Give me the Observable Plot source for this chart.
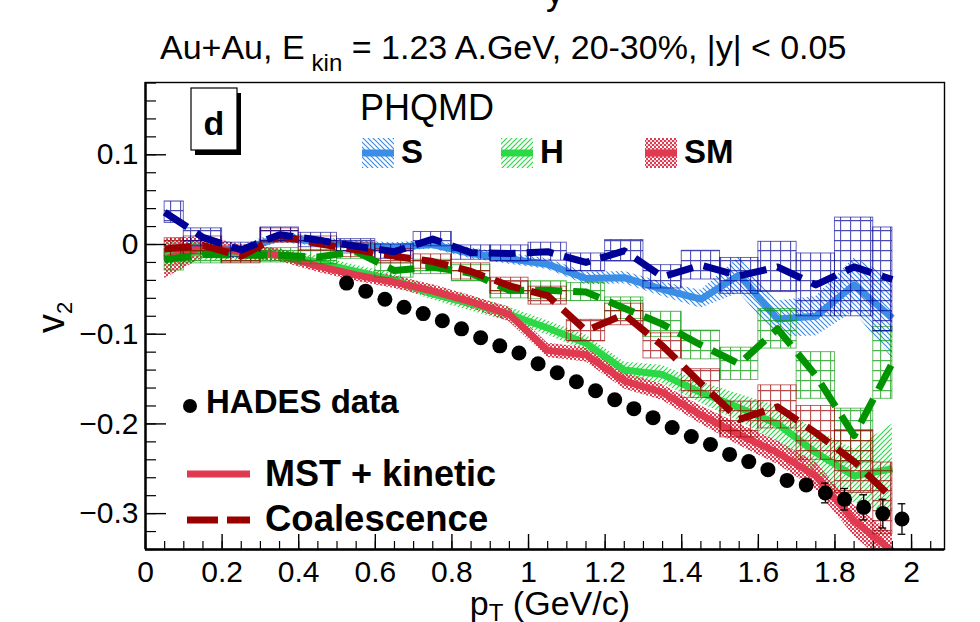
<!DOCTYPE html>
<html><head><meta charset="utf-8">
<script src="https://cdn.jsdelivr.net/npm/d3@7"></script>
<script src="https://cdn.jsdelivr.net/npm/@observablehq/plot@0.6"></script>
<style>
html,body{margin:0;padding:0;background:#fff;}
#chart{position:relative;width:980px;height:622px;overflow:hidden;}
</style></head><body><div id="chart"></div>
<script>
// ---------- data ----------
const ptBins = [0.05,0.15,0.25,0.35,0.45,0.55,0.65,0.75,0.85,0.95,1.05,1.15,1.25,1.35,1.45,1.55,1.65,1.75,1.85,1.95];

// S, MST + kinetic
const sMst    = [-0.008,-0.003,-0.006,0.008,0.003,-0.001,-0.003,0.000,-0.010,-0.016,-0.022,-0.038,-0.037,-0.050,-0.061,-0.034,-0.083,-0.080,-0.045,-0.082];
const sMstErr = [0.010,0.006,0.005,0.006,0.005,0.005,0.005,0.005,0.006,0.006,0.006,0.007,0.007,0.008,0.010,0.020,0.020,0.022,0.030,0.045];
// S, coalescence
const sCoal    = [0.036,0.008,-0.006,0.011,0.005,-0.002,-0.008,0.006,-0.009,-0.010,-0.008,-0.020,-0.007,-0.036,-0.023,-0.035,-0.025,-0.045,-0.025,-0.039];
const sCoalErr = [0.012,0.010,0.008,0.008,0.008,0.008,0.008,0.008,0.008,0.009,0.010,0.010,0.012,0.013,0.016,0.020,0.028,0.035,0.055,0.058];
// H, MST + kinetic
const hMst    = [-0.012,-0.008,-0.010,-0.012,-0.020,-0.030,-0.040,-0.055,-0.066,-0.078,-0.093,-0.110,-0.140,-0.145,-0.165,-0.182,-0.200,-0.232,-0.258,-0.250];
const hMstErr = [0.014,0.010,0.008,0.007,0.007,0.007,0.007,0.007,0.008,0.008,0.008,0.009,0.009,0.010,0.012,0.015,0.020,0.025,0.030,0.050];
// H, coalescence
const hCoal    = [-0.017,-0.011,-0.012,-0.012,-0.014,-0.008,-0.029,-0.025,-0.032,-0.051,-0.051,-0.053,-0.071,-0.089,-0.112,-0.133,-0.094,-0.146,-0.213,-0.132];
const hCoalErr = [0.012,0.010,0.008,0.008,0.008,0.008,0.008,0.008,0.009,0.009,0.010,0.010,0.012,0.014,0.016,0.018,0.022,0.026,0.030,0.040];
// SM, MST + kinetic
const smMst    = [-0.016,-0.003,-0.008,-0.012,-0.024,-0.034,-0.042,-0.052,-0.064,-0.078,-0.118,-0.123,-0.152,-0.165,-0.190,-0.212,-0.232,-0.258,-0.308,-0.342];
const smMstErr = [0.022,0.012,0.008,0.007,0.007,0.007,0.007,0.007,0.007,0.008,0.008,0.008,0.009,0.009,0.010,0.012,0.013,0.015,0.017,0.020];
// SM, coalescence
const smCoal    = [-0.005,-0.001,-0.013,0.010,0.001,-0.006,-0.013,-0.019,-0.030,-0.046,-0.057,-0.096,-0.078,-0.113,-0.155,-0.195,-0.181,-0.210,-0.242,-0.283];
const smCoalErr = [0.012,0.010,0.008,0.008,0.008,0.008,0.008,0.008,0.009,0.009,0.010,0.012,0.012,0.014,0.016,0.020,0.024,0.030,0.035,0.040];

// HADES data
const hadesPt  = [0.525,0.575,0.625,0.675,0.725,0.775,0.825,0.875,0.925,0.975,1.025,1.075,1.125,1.175,1.225,1.275,1.325,1.375,1.425,1.475,1.525,1.575,1.625,1.675,1.725,1.775,1.825,1.875,1.925,1.975];
const hadesV2  = [-0.043,-0.052,-0.061,-0.070,-0.077,-0.085,-0.094,-0.104,-0.113,-0.121,-0.133,-0.143,-0.153,-0.163,-0.173,-0.183,-0.193,-0.204,-0.214,-0.223,-0.234,-0.242,-0.251,-0.263,-0.268,-0.277,-0.284,-0.293,-0.300,-0.306];
const hadesErr = [0.004,0.004,0.004,0.004,0.004,0.004,0.004,0.004,0.004,0.004,0.004,0.004,0.004,0.004,0.004,0.004,0.004,0.004,0.004,0.004,0.004,0.004,0.004,0.004,0.005,0.011,0.012,0.014,0.016,0.017];

// axes
const xMajor = [0,0.2,0.4,0.6,0.8,1,1.2,1.4,1.6,1.8,2];
const yMajor = [-0.3,-0.2,-0.1,0,0.1];
const xMinor = d3.range(0, 2.08, 0.05);
const yMinor = d3.range(-0.34, 0.181, 0.02).map(v => +v.toFixed(3));
const xDomain = [0, 2.086];
const yDomain = [-0.34, 0.1806];

// ---------- styling ----------
const colS = "#3a8ee6", colSC = "#000096";
const colH = "#2cd846", colHC = "#009400";
const colSM = "#e03a50", colSMC = "#990000";
const FONT = "'Liberation Sans', Arial, Helvetica, sans-serif";
const W = 980, H = 622, mL = 145, mT = 82, mR = 36, mB = 73;
const fw = W - mL - mR, fh = H - mT - mB;
const halfBin = 0.05;

const rows = ptBins.map((pt, i) => ({
  pt,
  x1: Math.max(pt - halfBin, ptBins[0]),
  x2: Math.min(pt + halfBin, ptBins[ptBins.length - 1]),
  sMst: sMst[i], sMstErr: sMstErr[i], sCoal: sCoal[i], sCoalErr: sCoalErr[i],
  hMst: hMst[i], hMstErr: hMstErr[i], hCoal: hCoal[i], hCoalErr: hCoalErr[i],
  smMst: smMst[i], smMstErr: smMstErr[i], smCoal: smCoal[i], smCoalErr: smCoalErr[i]
}));
const hades = hadesPt.map((pt, i) => ({pt, v: hadesV2[i], e: hadesErr[i]}));

const mst = [
  {k: "sMst", e: "sMstErr", c: colS, ph: "#000001", pat: "url(#hatchS)"},
  {k: "hMst", e: "hMstErr", c: colH, ph: "#000002", pat: "url(#hatchH)"},
  {k: "smMst", e: "smMstErr", c: colSM, ph: "#000003", pat: "url(#dotSM)"}
];
const coal = [
  {k: "hCoal", e: "hCoalErr", c: colHC, ph: "#000004", pat: "url(#gridH)"},
  {k: "smCoal", e: "smCoalErr", c: colSMC, ph: "#000005", pat: "url(#gridSM)"},
  {k: "sCoal", e: "sCoalErr", c: colSC, ph: "#000006", pat: "url(#gridS)"}
];

const marks = [];
for (const s of mst) marks.push(Plot.areaY(rows, {x: "pt", y1: d => d[s.k] - d[s.e], y2: d => d[s.k] + d[s.e], fill: s.ph, clip: true}));
for (const s of mst) marks.push(Plot.line(rows, {x: "pt", y: s.k, stroke: s.c, strokeWidth: 7, strokeLinecap: "butt", strokeLinejoin: "round", clip: true}));
for (const s of coal) marks.push(Plot.rect(rows, {x1: "x1", x2: "x2", y1: d => d[s.k] - d[s.e], y2: d => d[s.k] + d[s.e], fill: s.ph, stroke: s.c, strokeWidth: 1, strokeOpacity: 0.6, clip: true}));
for (const s of coal) marks.push(Plot.line(rows, {x: "pt", y: s.k, stroke: s.c, strokeWidth: 7, strokeDasharray: "27,11", strokeLinecap: "butt", strokeLinejoin: "round", clip: true}));

marks.push(
  Plot.ruleX(hades, {x: "pt", y1: d => d.v - d.e, y2: d => d.v + d.e, stroke: "black", strokeWidth: 1.3}),
  Plot.ruleY(hades, {y: d => d.v + d.e, x1: d => d.pt - 0.01, x2: d => d.pt + 0.01, stroke: "black", strokeWidth: 1.3}),
  Plot.ruleY(hades, {y: d => d.v - d.e, x1: d => d.pt - 0.01, x2: d => d.pt + 0.01, stroke: "black", strokeWidth: 1.3}),
  Plot.dot(hades, {x: "pt", y: "v", r: 7.5, fill: "black", stroke: "none"}),
  Plot.frame({stroke: "black", strokeWidth: 1.4}),
  Plot.ruleX([xDomain[0]], {stroke: "black", strokeWidth: 2.4}),
  Plot.ruleY([yDomain[0]], {stroke: "black", strokeWidth: 2.4}),
  Plot.tickX(xMajor, {x: d => d, insetTop: fh - 15, stroke: "black", strokeWidth: 1.4}),
  Plot.tickX(xMinor, {x: d => d, insetTop: fh - 8, stroke: "black", strokeWidth: 1.2}),
  Plot.tickY(yMajor, {y: d => d, insetRight: fw - 21, stroke: "black", strokeWidth: 1.4}),
  Plot.tickY(yMinor, {y: d => d, insetRight: fw - 11, stroke: "black", strokeWidth: 1.2}),
  Plot.axisX(xMajor, {anchor: "bottom", tickSize: 0, tickPadding: 11, fontSize: 30, label: null, tickFormat: d => d3.format("~g")(d), fill: "black"}),
  Plot.axisY(yMajor, {anchor: "left", tickSize: 0, tickPadding: 7, fontSize: 30, label: null, tickFormat: d => d === 0 ? "0" : d3.format(".1f")(d).replace("-", "\u2212"), fill: "black"})
);

const svgEl = Plot.plot({
  width: W, height: H,
  marginLeft: mL, marginTop: mT, marginRight: mR, marginBottom: mB,
  x: {domain: xDomain}, y: {domain: yDomain},
  style: {fontFamily: FONT, background: "white", color: "black", overflow: "hidden"},
  marks
});
document.getElementById("chart").append(svgEl);

// ---------- patterns, replacing placeholder fills ----------
const svg = d3.select(svgEl);
const defs = svg.insert("defs", ":first-child");
function diag(id, color, slash) {
  const p = defs.append("pattern").attr("id", id).attr("patternUnits", "userSpaceOnUse").attr("width", 5).attr("height", 5);
  p.append("path").attr("d", slash ? "M-1,6 L6,-1 M-2,2 L2,-2 M3,7 L7,3" : "M-1,-1 L6,6 M-2,3 L2,7 M3,-2 L7,2")
    .attr("stroke", color).attr("stroke-width", 1.2).attr("fill", "none");
}
diag("hatchS", colS, false);
diag("hatchH", colH, true);
{
  const p = defs.append("pattern").attr("id", "dotSM").attr("patternUnits", "userSpaceOnUse").attr("width", 4).attr("height", 4);
  p.append("rect").attr("x", 0).attr("y", 0).attr("width", 2).attr("height", 2).attr("fill", colSM);
  p.append("rect").attr("x", 2).attr("y", 2).attr("width", 2).attr("height", 2).attr("fill", colSM);
  p.append("rect").attr("x", 2).attr("y", 0).attr("width", 2).attr("height", 2).attr("fill", colSM).attr("opacity", 0.25);
}
function grid(id, color) {
  const p = defs.append("pattern").attr("id", id).attr("patternUnits", "userSpaceOnUse").attr("width", 10).attr("height", 10);
  p.append("path").attr("d", "M0,0.6 H10 M0.6,0 V10").attr("stroke", color).attr("stroke-width", 1.1).attr("stroke-opacity", 0.7).attr("fill", "none");
}
grid("gridS", colSC); grid("gridH", colHC); grid("gridSM", colSMC);
for (const s of [...mst, ...coal]) svg.selectAll(`[fill="${s.ph}"]`).attr("fill", s.pat);

// ---------- texts and legends ----------
function txt(x, y, str, size, opts = {}) {
  const t = svg.append("text").attr("x", x).attr("y", y).attr("font-family", FONT).attr("font-size", size)
    .attr("fill", "black").attr("font-weight", opts.bold ? "bold" : "normal").attr("text-anchor", opts.anchor || "start");
  t.text(str);
  return t;
}
// cut-off glyph of the page title above
txt(555, 4, "y", 36, {anchor: "middle"});
// title with subscript
{
  const t = svg.append("text").attr("x", 160).attr("y", 59).attr("text-anchor", "start").attr("font-family", FONT).attr("font-size", 34).attr("fill", "black");
  t.append("tspan").text("Au+Au, E");
  t.append("tspan").attr("dx", 7).attr("dy", 12).attr("font-size", 24).text("kin");
  t.append("tspan").attr("dy", -12).text(" = 1.23 A.GeV, 20-30%, |y| < 0.05");
}
// axis titles
{
  const t = svg.append("text").attr("transform", "translate(64,333) rotate(-90)").attr("text-anchor", "start").attr("font-family", FONT).attr("font-size", 38).attr("fill", "black");
  t.append("tspan").text("v");
  t.append("tspan").attr("dy", 8).attr("font-size", 22).text("2");
  const p = svg.append("text").attr("x", 630).attr("y", 615).attr("text-anchor", "end").attr("font-family", FONT).attr("font-size", 34).attr("fill", "black");
  p.append("tspan").text("p");
  p.append("tspan").attr("dy", 6).attr("font-size", 24).text("T");
  p.append("tspan").attr("dy", -6).text(" (GeV/c)");
}
// panel label
svg.append("rect").attr("x", 195).attr("y", 93).attr("width", 46).attr("height", 62).attr("fill", "black");
svg.append("rect").attr("x", 191).attr("y", 88).attr("width", 46).attr("height", 62).attr("fill", "white").attr("stroke", "black").attr("stroke-width", 1.2);
txt(214, 135, "d", 34, {bold: true, anchor: "middle"});
// top legend
txt(360, 120, "PHQMD", 36);
for (const [x0, col, pat, lab] of [[362, colS, "url(#hatchS)", "S"], [501, colH, "url(#hatchH)", "H"], [645, colSM, "url(#dotSM)", "SM"]]) {
  svg.append("rect").attr("x", x0).attr("y", 138).attr("width", 32).attr("height", 30).attr("fill", pat);
  svg.append("line").attr("x1", x0).attr("x2", x0 + 32).attr("y1", 153).attr("y2", 153).attr("stroke", col).attr("stroke-width", 7);
  txt(x0 + 39, 163, lab, 33, {bold: true});
}
// bottom legend
svg.append("circle").attr("cx", 190).attr("cy", 406).attr("r", 7).attr("fill", "black");
txt(206, 413, "HADES data", 33, {bold: true});
svg.append("line").attr("x1", 187).attr("x2", 250).attr("y1", 474).attr("y2", 474).attr("stroke", colSM).attr("stroke-width", 7);
txt(265, 486, "MST + kinetic", 36, {bold: true});
svg.append("line").attr("x1", 187).attr("x2", 250).attr("y1", 520).attr("y2", 520).attr("stroke", colSMC).attr("stroke-width", 7).attr("stroke-dasharray", "31,9");
txt(265, 531, "Coalescence", 36.5, {bold: true});
</script></body></html>
